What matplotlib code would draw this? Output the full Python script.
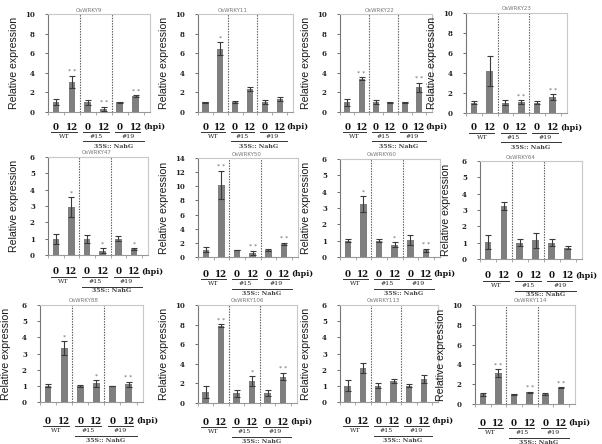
import matplotlib
matplotlib.use('Agg')
import matplotlib.pyplot as plt
from matplotlib.transforms import blended_transform_factory

W, H = 602, 444
fig = plt.figure(figsize=(W / 100, H / 100), dpi=100)

genes = ['OsWRKY9', 'OsWRKY11', 'OsWRKY22', 'OsWRKY23',
         'OsWRKY47', 'OsWRKY50', 'OsWRKY60', 'OsWRKY64',
         'OsWRKY88', 'OsWRKY106', 'OsWRKY113', 'OsWRKY114']

means = [
    [1.0, 3.05, 1.0, 0.35, 1.0, 1.6],
    [1.0, 6.45, 1.0, 2.35, 1.0, 1.35],
    [1.0, 3.4, 1.0, 1.0, 1.0, 2.5],
    [1.0, 4.15, 1.0, 1.1, 1.0, 1.6],
    [1.0, 2.95, 1.0, 0.25, 1.0, 0.35],
    [1.0, 10.2, 1.0, 0.6, 1.0, 1.9],
    [1.0, 3.25, 1.0, 0.75, 1.05, 0.4],
    [1.05, 3.25, 1.0, 1.15, 1.0, 0.7],
    [1.0, 3.35, 1.0, 1.15, 1.0, 1.1],
    [1.1, 7.9, 1.0, 2.25, 1.0, 2.7],
    [1.0, 2.1, 1.0, 1.3, 1.0, 1.45],
    [1.0, 3.1, 1.0, 1.2, 1.0, 1.65],
]
errs = [
    [0.3, 0.65, 0.25, 0.2, 0.05, 0.1],
    [0.05, 0.65, 0.1, 0.25, 0.2, 0.2],
    [0.35, 0.15, 0.2, 0.05, 0.05, 0.5],
    [0.15, 1.5, 0.25, 0.2, 0.15, 0.3],
    [0.3, 0.6, 0.25, 0.15, 0.15, 0.05],
    [0.35, 2.0, 0.05, 0.3, 0.2, 0.15],
    [0.1, 0.5, 0.1, 0.15, 0.3, 0.1],
    [0.45, 0.25, 0.2, 0.45, 0.2, 0.1],
    [0.1, 0.45, 0.05, 0.2, 0.02, 0.15],
    [0.6, 0.15, 0.35, 0.55, 0.3, 0.4],
    [0.35, 0.3, 0.15, 0.15, 0.1, 0.25],
    [0.15, 0.4, 0.05, 0.05, 0.1, 0.05],
]
stars = [
    ['', '**', '', '**', '', '**'],
    ['', '*', '', '', '', ''],
    ['', '**', '', '', '', '**'],
    ['', '', '', '**', '', '**'],
    ['', '*', '', '*', '', '*'],
    ['', '**', '', '**', '', '**'],
    ['', '*', '', '*', '', '**'],
    ['', '', '', '', '', ''],
    ['', '*', '', '*', '', '**'],
    ['', '**', '', '*', '', '**'],
    ['', '', '', '', '', ''],
    ['', '**', '', '**', '', '**'],
]
ymax = [10, 10, 10, 10, 6, 14, 6, 6, 6, 10, 6, 10]
ystep = [2, 2, 2, 2, 1, 2, 1, 1, 1, 2, 1, 2]
time_labels = ['0', '12', '0', '12', '0', '12']
group_labels = ['WT', '#15', '#19']
construct_label = '35S:: NahG'
unit_label = '(hpi)'

# panel boxes in pixels: left, top, right, bottom
rects = [(48, 14, 150, 112), (198, 14, 293, 112), (340, 14, 432, 112), (466, 13, 567, 113),
         (48, 157, 148, 255), (198, 158, 298, 257), (340, 159, 440, 257), (480, 161, 582, 259),
         (40, 305, 143, 402), (198, 305, 297, 403), (340, 305, 438, 402), (475, 305, 575, 404)]
title_frac = [0.4, 0.36, 0.43, 0.5, 0.49, 0.49, 0.42, 0.4, 0.42, 0.5, 0.44, 0.55]
label_off = [15, 15, 15, 15, 17, 17, 17, 17, 19, 19, 19, 19]

bar_color = '#7f7f7f'
frame_color = '#c8c8c8'
serif = 'DejaVu Serif'

for i in range(12):
    l, t, r, b = rects[i]
    ax = fig.add_axes([l / W, 1 - b / H, (r - l) / W, (b - t) / H])
    x = list(range(6))
    ax.bar(x, means[i], width=0.42, color=bar_color, zorder=2)
    ax.errorbar(x, means[i], yerr=errs[i], fmt='none', ecolor='#3a3a3a',
                elinewidth=0.8, capsize=2, capthick=0.8, zorder=3)
    ax.set_xlim(-0.5, 5.9)
    ax.set_ylim(0, ymax[i])
    ax.set_yticks(range(0, ymax[i] + 1, ystep[i]))
    ax.set_yticklabels([str(v) for v in range(0, ymax[i] + 1, ystep[i])],
                       fontfamily=serif, fontweight='bold', fontsize=5, color='#222222')
    ax.tick_params(axis='y', direction='out', length=2.5, width=0.6, pad=7, color='#555555')
    ax.set_xticks([k - 0.5 for k in range(7)])
    ax.set_xticklabels([])
    ax.tick_params(axis='x', direction='out', length=2, width=0.5, color='#888888')
    for s in ['top', 'right', 'bottom']:
        ax.spines[s].set_color(frame_color)
        ax.spines[s].set_linewidth(0.8)
    ax.spines['left'].set_color('#777777')
    ax.spines['left'].set_linewidth(0.8)
    ax.spines['bottom'].set_color('#999999')
    for d in (1.5, 3.5):
        ax.axvline(d, color='#555555', linestyle=(0, (1.2, 1.2)), linewidth=0.8, zorder=1)
    for k in range(6):
        if stars[i][k]:
            ax.text(k, means[i][k] + errs[i][k] + ymax[i] * 0.015, ' '.join(stars[i][k]),
                    ha='center', va='bottom', fontsize=4.5, color='#666666')
    fig.text((l + title_frac[i] * (r - l)) / W, 1 - (t - 4) / H, genes[i],
             ha='center', va='center', fontsize=4, color='#777777')
    fig.text((l - 34) / W, 1 - ((t + b) / 2) / H, 'Relative expression', rotation=90,
             ha='center', va='center', fontsize=7.6, family='Liberation Sans', color='#1a1a1a')
    tr = blended_transform_factory(ax.transData, fig.transFigure)
    off = label_off[i]
    y_num = 1 - (b + off) / H
    y_l1 = 1 - (b + off + 5) / H
    y_grp = 1 - (b + off + 9.5) / H
    y_l2 = 1 - (b + off + 14.5) / H
    y_con = 1 - (b + off + 19) / H
    for k in range(6):
        ax.text(k, y_num, time_labels[k], transform=tr, ha='center', va='center',
                fontsize=6.3, fontweight='bold', family=serif, color='#111111', clip_on=False)
    ax.text(5.45, y_num, unit_label, transform=tr, ha='left', va='center',
            fontsize=5.8, fontweight='bold', family=serif, color='#111111', clip_on=False)
    for g in range(3):
        x0, x1 = 2 * g - 0.3, 2 * g + 1.3
        ax.plot([x0, x1], [y_l1, y_l1], transform=tr, color='#333333', lw=0.7, clip_on=False)
        ax.text(2 * g + 0.5, y_grp, group_labels[g], transform=tr, ha='center', va='center',
                fontsize=4.5, family=serif, color='#222222', clip_on=False)
    ax.plot([1.7, 5.5], [y_l2, y_l2], transform=tr, color='#333333', lw=0.7, clip_on=False)
    ax.text(3.6, y_con, construct_label, transform=tr, ha='center', va='center',
            fontsize=4.5, family=serif, fontweight='bold', color='#444444', clip_on=False)

fig.savefig('out.png', dpi=100, facecolor='white')
